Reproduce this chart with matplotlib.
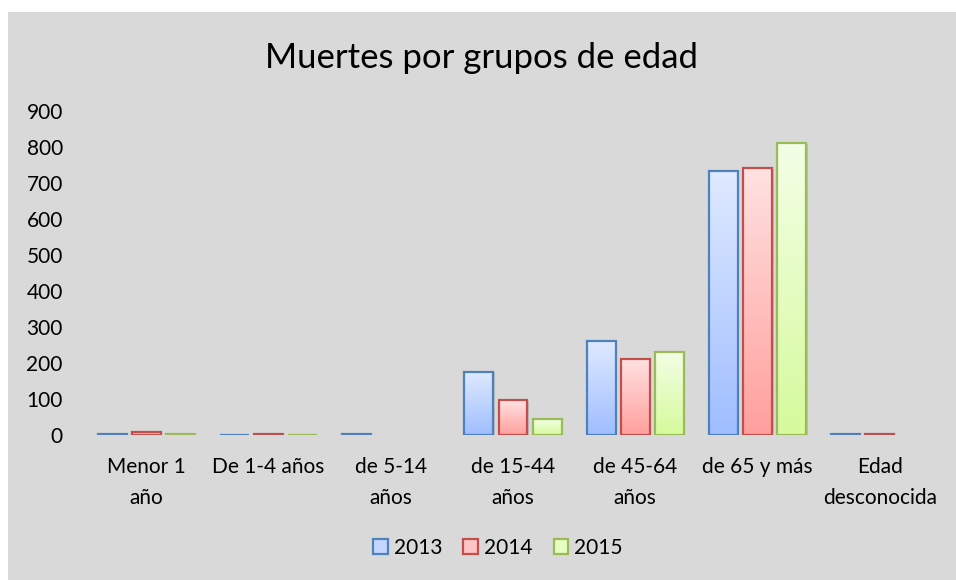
import numpy as np
import matplotlib
matplotlib.use("Agg")
import matplotlib.pyplot as plt
from matplotlib.colors import LinearSegmentedColormap
from matplotlib.patches import Rectangle, Patch

plt.rcParams['font.family'] = ['Lato', 'DejaVu Sans']

# datos
grupos = ['Menor 1\naño', 'De 1-4 años', 'de 5-14\naños', 'de 15-44\naños',
          'de 45-64\naños', 'de 65 y más', 'Edad\ndesconocida']
anios = ['2013', '2014', '2015']
muertes_2013 = [3, 1, 2, 176, 262, 734, 2]
muertes_2014 = [8, 3, 0, 97, 212, 742, 2]
muertes_2015 = [2, 1, 0, 44, 231, 810, 0]
series = [muertes_2013, muertes_2014, muertes_2015]

bordes = ['#4f81bd', '#c0504d', '#9bbb59']
arriba = ['#e0eaff', '#ffe2e2', '#f3ffe6']
abajo = ['#9fbeff', '#ff9f9c', '#d6fa9c']
leyenda_fill = ['#c4d6ff', '#ffc4c3', '#e6fdc4']

fig = plt.figure(figsize=(9.56, 5.8), dpi=100)
fig.patch.set_facecolor('white')
fig.patches.append(Rectangle((8 / 956, 0), 1 - 8 / 956, 568 / 580,
                             transform=fig.transFigure, facecolor='#d9d9d9',
                             edgecolor='none', zorder=-10))

ax = fig.add_axes([85 / 956, 0.25, 856 / 956, 324 / 580])
ax.set_facecolor('none')

x = np.arange(len(grupos))
paso = 0.279
ancho = 0.237
grad = np.linspace(0, 1, 256).reshape(-1, 1)

for i, valores in enumerate(series):
    cmap = LinearSegmentedColormap.from_list('g%d' % i, [abajo[i], arriba[i]])
    barras = ax.bar(x + (i - 1) * paso, valores, ancho, facecolor='none',
                    edgecolor=bordes[i], linewidth=1.6, zorder=3)
    for b in barras:
        h = b.get_height()
        if h <= 0:
            b.set_visible(False)
            continue
        x0 = b.get_x()
        # sombra
        ax.add_patch(Rectangle((x0 + 0.012, 0), b.get_width(), h - 2,
                               facecolor='#000000', alpha=0.12,
                               edgecolor='none', zorder=1))
        ax.imshow(grad, extent=[x0, x0 + b.get_width(), 0, h], aspect='auto',
                  cmap=cmap, origin='lower', zorder=2, interpolation='bilinear')

ax.set_xlim(-0.5, len(grupos) - 0.5)
ax.set_ylim(0, 900)
ax.set_aspect('auto')
ax.set_yticks(range(0, 901, 100))
ax.set_xticks(x)
ax.set_xticklabels(grupos, linespacing=1.65)
ax.tick_params(axis='both', length=0, labelsize=15, colors='black')
ax.tick_params(axis='y', pad=16)
ax.tick_params(axis='x', pad=16)
for s in ax.spines.values():
    s.set_visible(False)

fig.text(482 / 956, 1 - 68 / 580, 'Muertes por grupos de edad', ha='center',
         va='baseline', fontsize=25)

handles = [Patch(facecolor=leyenda_fill[i], edgecolor=bordes[i], linewidth=1.6)
           for i in range(3)]
fig.legend(handles, anios, loc='center', bbox_to_anchor=(498 / 956, 1 - 548 / 580),
           ncol=3, frameon=False, fontsize=15, handlelength=0.7,
           handleheight=0.7, handletextpad=0.3, columnspacing=1.0)

fig.savefig('out.png', dpi=100)
